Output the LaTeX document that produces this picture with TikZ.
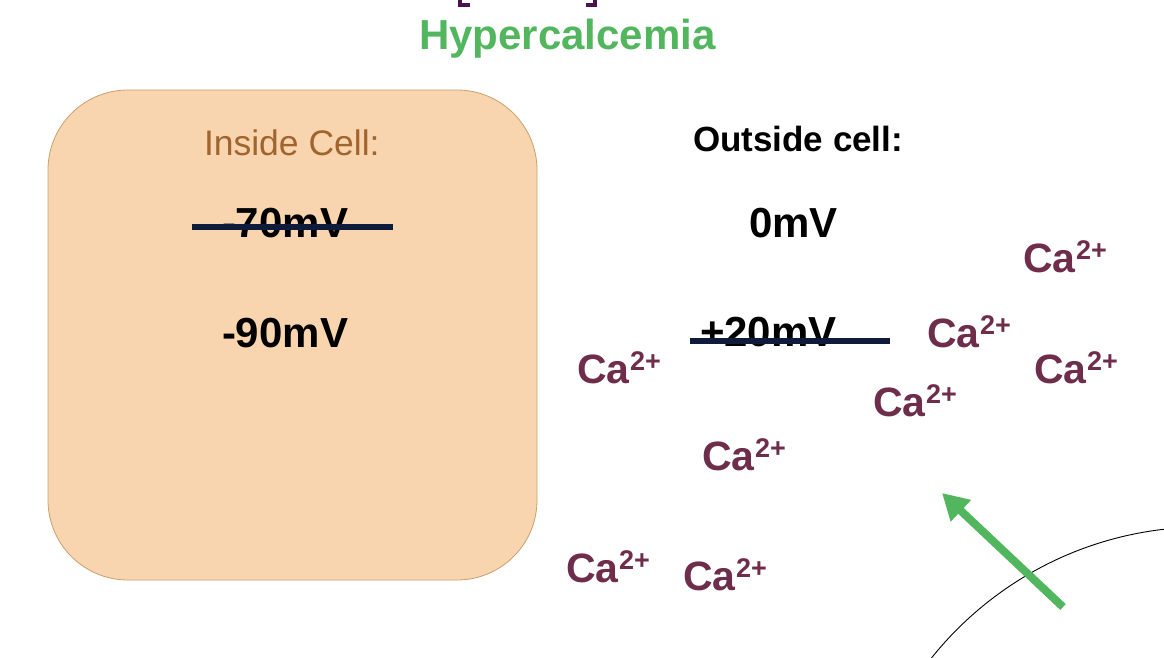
\documentclass[tikz,border=0pt]{standalone}
\usepackage{fontspec}
\setmainfont{Liberation Sans}
\usetikzlibrary{arrows.meta}
\definecolor{hyper}{HTML}{52B65E}
\definecolor{insidec}{HTML}{A0642E}
\definecolor{cellfill}{HTML}{F8D5AE}
\definecolor{cellborder}{HTML}{C9A06E}
\definecolor{strike}{HTML}{0F1B3A}
\definecolor{ion}{HTML}{6E2D4B}
\definecolor{brack}{HTML}{4B1250}
\newcommand{\fsz}[1]{\fontsize{#1}{#1}\selectfont}
\newcommand{\caion}{\fsz{41}\bfseries Ca\kern0.8pt\raisebox{12.5pt}{\fsz{27}\bfseries 2+}}
\tikzset{
  lbl/.style={anchor=base west, inner sep=0pt, outer sep=0pt},
  valtxt/.style={lbl, font=\fsz{42}\bfseries, text=black},
  ionlbl/.style={lbl, text=ion},
  strikeline/.style={draw=strike, line width=6pt},
  bracketstroke/.style={draw=brack, line width=4pt},
}
\begin{document}
\begin{tikzpicture}[x=1pt,y=-1pt]
\useasboundingbox (0,0) rectangle (1164,658);
\begin{scope}
\clip (0,0) rectangle (1164,658);
% cut-off brackets of the title above
\draw[bracketstroke] (460,0) -- (460,5) -- (470,5);
\draw[bracketstroke] (586,5) -- (595,5) -- (595,0);
% title
\node[lbl, font=\fsz{42}\bfseries, text=hyper] (title) at (419,50) {Hypercalcemia};
% inside cell box
\draw[fill=cellfill, draw=cellborder, line width=0.8pt, rounded corners=80pt] (48,90) rectangle (537,580);
\node[lbl, font=\fsz{35.5}, text=insidec] (inside) at (204,155) {Inside Cell:};
\node[valtxt] (m70) at (222,237) {-70mV};
\coordinate (s1a) at (192,227);
\coordinate (s1b) at (393,227);
\draw[strikeline] (s1a) -- (s1b);
\node[valtxt] (m90) at (222,347) {-90mV};
% outside
\node[lbl, font=\fsz{35}\bfseries, text=black] (outside) at (693,151) {Outside cell:};
\node[valtxt] (zero) at (749,237) {0mV};
\node[valtxt] (p20) at (700,346) {+20mV};
\coordinate (s2a) at (690,341);
\coordinate (s2b) at (890,341);
\draw[strikeline] (s2a) -- (s2b);
% calcium ions
\node[ionlbl] (ca1) at (1023,272) {\caion};
\node[ionlbl] (ca2) at (927,347) {\caion};
\node[ionlbl] (ca3) at (1034,383) {\caion};
\node[ionlbl] (ca4) at (577,383) {\caion};
\node[ionlbl] (ca5) at (873,416) {\caion};
\node[ionlbl] (ca6) at (702,470) {\caion};
\node[ionlbl] (ca7) at (566,582) {\caion};
\node[ionlbl] (ca8) at (683,590) {\caion};
% neighbouring cell membrane
\coordinate (cellc) at (1204,876);
\draw[black, line width=0.9pt] (cellc) circle[radius=349];
% green arrow
\coordinate (arrs) at (1063,607);
\coordinate (arre) at (942,493);
\draw[hyper, line width=8pt, -{Triangle[length=26pt,width=28pt]}] (arrs) -- (arre);
\end{scope}
\end{tikzpicture}
\end{document}
